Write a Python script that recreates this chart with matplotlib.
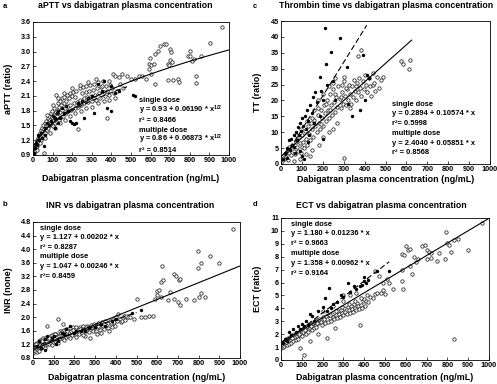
import numpy as np
import matplotlib
matplotlib.use("Agg")
import matplotlib.pyplot as plt

plt.rcParams["font.family"] = ["Liberation Sans", "DejaVu Sans"]
plt.rcParams["font.weight"] = "bold"
plt.rcParams["mathtext.fontset"] = "custom"
plt.rcParams["mathtext.rm"] = "Liberation Sans:bold"
plt.rcParams["mathtext.bf"] = "Liberation Sans:bold"

# ------------------------------------------------------------
# data: (concentration ng/mL, value)
aptt_multi = [
    (2, 0.92), (4, 1.0), (5, 0.95), (6, 1.05), (8, 1.02), (10, 1.1), (12, 0.98), (14, 1.12),
    (15, 1.05), (18, 1.2), (20, 1.15), (22, 1.08), (25, 1.25), (28, 1.18), (30, 1.3), (32, 1.22),
    (35, 1.35), (38, 1.28), (40, 1.4), (42, 1.2), (45, 1.45), (48, 1.32), (50, 1.38), (52, 1.5),
    (55, 0.95), (58, 1.42), (60, 1.55), (62, 1.35), (65, 1.48), (68, 1.6), (70, 1.4), (72, 1.52),
    (75, 1.65), (78, 1.45), (80, 1.58), (82, 1.7), (85, 1.5), (88, 1.62), (90, 1.75), (92, 1.55),
    (95, 1.68), (98, 1.8), (100, 1.6), (102, 1.48), (105, 1.72), (108, 1.85), (110, 1.65),
    (112, 1.55), (115, 1.78), (118, 2.11), (120, 1.7), (122, 1.58), (125, 1.82), (128, 1.95),
    (130, 1.75), (132, 1.62), (135, 1.88), (138, 2.0), (140, 1.78), (142, 1.68), (145, 1.92),
    (148, 2.05), (150, 1.82), (155, 1.7), (158, 1.95), (160, 2.08), (165, 1.85), (168, 1.75),
    (170, 2.0), (175, 2.12), (178, 1.9), (180, 1.8), (185, 2.05), (188, 2.15), (190, 1.92),
    (195, 1.82), (200, 2.1), (205, 2.18), (208, 1.95), (212, 1.85), (215, 2.08), (220, 2.2),
    (225, 1.98), (228, 1.88), (232, 1.43), (238, 2.25), (240, 2.02), (245, 1.92), (250, 2.15),
    (255, 2.28), (258, 2.05), (262, 1.95), (268, 2.18), (272, 2.3), (275, 2.08), (280, 1.98),
    (285, 2.2), (290, 2.32), (295, 2.1), (300, 2.0), (305, 2.22), (310, 2.35), (315, 2.12),
    (320, 2.02), (325, 2.25), (330, 2.38), (338, 2.15), (342, 2.05), (348, 2.28), (355, 2.4),
    (360, 2.18), (365, 2.1), (372, 2.3), (378, 1.66), (380, 2.2), (388, 2.12), (395, 2.32),
    (405, 2.25), (410, 2.55), (412, 2.15), (420, 2.5), (430, 2.2), (440, 2.48), (445, 2.35),
    (455, 2.55), (460, 2.25), (480, 2.5), (500, 2.45), (520, 2.45), (540, 2.5), (555, 2.5),
    (575, 2.45), (590, 2.75), (590, 2.65), (597, 2.87), (600, 2.73), (600, 2.55), (615, 2.75),
    (620, 2.34), (622, 2.95), (640, 3.02), (650, 3.12), (670, 3.16), (680, 3.15), (690, 2.75),
    (690, 2.42), (695, 2.72), (700, 3.05), (700, 2.82), (705, 3.0), (710, 2.78), (715, 2.42),
    (740, 2.44), (745, 2.38), (790, 2.9), (800, 3.02), (800, 2.9), (810, 2.8), (820, 2.85),
    (830, 2.5), (830, 2.37), (855, 2.9), (903, 3.17), (965, 3.5),
    (20, 1.0), (35, 1.15), (60, 1.25), (85, 1.35), (110, 1.45), (140, 1.55), (165, 1.62),
    (190, 1.7), (215, 1.75), (245, 1.8), (270, 1.85), (300, 1.88), (330, 1.95), (360, 2.0),
    (390, 2.02), (420, 2.05), (70, 1.72), (100, 1.92), (130, 2.05), (160, 2.15), (200, 2.25),
    (240, 2.32), (280, 2.38), (320, 2.45), (350, 2.3), (390, 2.4),
]
aptt_single = [
    (5, 0.95), (10, 1.05), (15, 1.15), (20, 1.1), (25, 1.3), (30, 1.2), (40, 1.35), (45, 1.25),
    (55, 1.08), (60, 1.45), (60, 1.3), (70, 1.55), (80, 1.5), (90, 1.6), (100, 1.7), (110, 1.65),
    (110, 1.45), (120, 1.75), (130, 1.8), (130, 1.55), (140, 1.65), (150, 1.85), (160, 1.75),
    (170, 1.9), (180, 1.8), (190, 1.6), (200, 1.55), (210, 1.52), (220, 1.55), (230, 1.95),
    (250, 2.0), (260, 1.65), (280, 2.05), (300, 2.1), (310, 1.75), (330, 2.35), (350, 2.2),
    (360, 2.4), (380, 1.85), (400, 1.8), (400, 2.3), (420, 2.15), (440, 2.2), (510, 2.12),
    (520, 2.1),
]

inr_multi = [
    (2, 0.95), (5, 1.05), (8, 1.15), (10, 1.0), (12, 1.22), (15, 1.1), (18, 0.98), (20, 1.25),
    (22, 1.12), (25, 1.05), (28, 1.3), (30, 1.18), (32, 1.08), (35, 1.32), (38, 1.2), (40, 1.1),
    (42, 1.35), (45, 1.25), (48, 1.15), (50, 1.38), (55, 1.28), (58, 1.18), (60, 1.4), (65, 1.3),
    (68, 1.2), (70, 1.75), (75, 1.32), (78, 1.22), (80, 1.45), (85, 1.35), (88, 1.25), (90, 1.48),
    (95, 1.38), (98, 1.28), (100, 1.5), (105, 1.4), (108, 1.3), (110, 1.52), (115, 1.42),
    (118, 1.32), (120, 1.95), (125, 1.45), (128, 1.35), (130, 1.58), (135, 1.48), (138, 1.38),
    (140, 1.6), (145, 1.8), (148, 1.4), (150, 1.62), (155, 1.52), (158, 1.42), (160, 1.65),
    (165, 1.55), (168, 1.45), (170, 1.66), (175, 1.56), (178, 1.46), (180, 1.68), (185, 1.58),
    (190, 1.48), (195, 1.7), (200, 1.6), (205, 1.5), (210, 1.7), (215, 1.62), (220, 1.52),
    (225, 1.72), (230, 1.64), (235, 1.54), (240, 1.74), (245, 1.65), (250, 1.45), (255, 1.58),
    (260, 1.75), (265, 1.67), (270, 1.56), (275, 1.4), (280, 1.77), (285, 1.68), (290, 1.58),
    (295, 1.8), (300, 1.7), (305, 1.6), (310, 1.5), (315, 1.82), (320, 1.72), (325, 1.62),
    (330, 1.55), (335, 1.85), (340, 1.75), (345, 1.65), (350, 1.88), (355, 1.78), (360, 1.68),
    (365, 1.58), (370, 1.9), (375, 1.8), (380, 1.72), (385, 1.95), (390, 1.85), (395, 1.75),
    (400, 2.0), (405, 1.9), (410, 2.1), (420, 1.95), (425, 1.85), (430, 1.9), (440, 2.05),
    (445, 1.92), (450, 2.05), (460, 2.0), (470, 2.0), (490, 1.95), (500, 2.55), (520, 2.0),
    (540, 2.0), (560, 2.05), (580, 2.05), (590, 2.55), (600, 2.78), (600, 2.65), (610, 2.8),
    (620, 3.05), (620, 2.6), (625, 3.5), (630, 3.1), (650, 2.5), (660, 2.75), (680, 3.28),
    (680, 2.55), (690, 3.2), (700, 2.45), (705, 3.08), (710, 3.12), (710, 2.35), (740, 2.55),
    (780, 2.5), (795, 3.95), (795, 3.45), (800, 2.6), (810, 3.6), (810, 2.7), (830, 2.6),
    (855, 3.8), (900, 3.6), (965, 4.6),
    (15, 1.2), (45, 1.3), (75, 1.4), (105, 1.5), (135, 1.55), (165, 1.6), (195, 1.62),
    (225, 1.65), (255, 1.7), (285, 1.72), (315, 1.75), (345, 1.8), (375, 1.85), (30, 1.0),
    (60, 1.1), (90, 1.18), (120, 1.25), (150, 1.32), (180, 1.38), (210, 1.42), (240, 1.48),
]
inr_single = [
    (20, 1.15), (30, 1.3), (40, 1.1), (60, 1.35), (60, 1.05), (70, 1.45), (90, 1.4), (100, 1.45),
    (110, 1.2), (120, 1.3), (140, 1.55), (150, 1.5), (160, 1.65), (180, 1.75), (200, 1.55),
    (210, 1.58), (230, 1.6), (250, 1.6), (270, 1.68), (300, 1.7), (330, 1.8), (350, 1.75),
    (380, 1.88), (400, 1.95), (480, 2.12), (520, 2.2),
]

tt_multi = [
    (5, 1.0), (10, 2.0), (15, 1.5), (20, 3.0), (25, 2.2), (30, 4.0), (35, 1.2), (40, 3.5),
    (45, 5.0), (50, 2.8), (55, 6.0), (60, 4.2), (60, 0.8), (65, 3.0), (70, 7.0), (75, 5.5),
    (80, 4.0), (85, 8.5), (90, 6.5), (90, 1.5), (95, 3.5), (100, 9.0), (100, 5.5), (105, 7.0),
    (110, 5.0), (115, 10.5), (120, 8.0), (120, 3.0), (125, 6.0), (130, 12.0), (135, 9.5),
    (140, 7.5), (140, 2.5), (145, 13.0), (150, 11.0), (150, 4.5), (155, 8.5), (160, 14.0),
    (160, 17.0), (165, 12.0), (170, 10.0), (175, 15.5), (175, 20.0), (180, 13.0), (180, 6.0),
    (185, 11.0), (190, 17.0), (195, 14.5), (200, 12.0), (200, 8.5), (200, 22.0), (205, 18.5),
    (210, 16.0), (215, 13.5), (220, 20.0), (225, 17.0), (230, 14.5), (230, 10.0), (230, 24.5),
    (235, 22.0), (240, 18.5), (245, 15.5), (250, 23.5), (250, 11.0), (250, 25.5), (255, 19.5),
    (260, 16.5), (260, 27.0), (265, 21.0), (270, 18.0), (270, 13.0), (275, 24.5), (280, 20.5),
    (285, 17.5), (290, 22.5), (290, 25.0), (295, 19.0), (300, 26.0), (300, 27.5), (300, 1.8),
    (305, 21.5), (310, 18.5), (315, 23.5), (320, 20.0), (325, 25.0), (330, 22.0), (335, 19.0),
    (340, 24.5), (345, 21.0), (350, 26.5), (355, 23.0), (360, 20.0), (365, 25.5), (368, 34.0),
    (370, 22.5), (375, 27.0), (380, 24.0), (385, 21.5), (385, 35.8), (390, 26.0), (395, 23.5),
    (400, 28.0), (405, 25.0), (410, 22.5), (420, 27.0), (425, 24.5), (430, 21.5), (440, 28.5),
    (440, 25.0), (445, 25.5), (450, 23.0), (460, 27.5), (470, 24.0), (480, 26.5), (490, 27.5),
    (576, 32.3), (585, 31.5), (612, 30.0), (619, 32.6),
    (40, 5.5), (70, 9.0), (95, 11.0), (125, 13.5), (150, 14.5), (175, 17.5), (190, 12.5),
    (215, 19.0), (235, 17.0), (260, 22.0), (285, 21.0), (310, 24.0), (330, 17.5), (360, 24.5),
]
tt_single = [
    (10, 1.5), (20, 3.5), (30, 2.0), (30, 5.0), (40, 7.5), (45, 4.5), (50, 8.0), (55, 6.0),
    (60, 9.0), (60, 5.5), (65, 3.5), (70, 10.0), (75, 7.5), (80, 11.5), (85, 9.0), (90, 13.0),
    (90, 4.0), (95, 10.5), (100, 2.5), (100, 14.5), (105, 12.0), (110, 1.5), (115, 15.0),
    (120, 11.0), (125, 17.0), (130, 13.5), (130, 7.0), (135, 9.0), (140, 18.5), (150, 16.0),
    (155, 21.0), (160, 13.0), (165, 22.5), (170, 19.5), (185, 27.3), (185, 15.0), (190, 23.0),
    (200, 20.0), (200, 8.0), (209, 42.8), (214, 31.5), (220, 25.0), (241, 35.3), (250, 26.0),
    (260, 20.0), (281, 39.8), (316, 30.5), (320, 19.0), (340, 15.0), (380, 17.0), (392, 34.4),
    (400, 20.0), (410, 28.0), (420, 27.0),
]

ect_multi = [
    (2, 0.9), (5, 1.2), (8, 1.0), (10, 1.4), (15, 1.1), (18, 1.5), (20, 1.25), (25, 1.6),
    (28, 1.35), (30, 1.15), (35, 1.7), (38, 1.45), (40, 1.25), (45, 1.8), (48, 1.55), (50, 1.35),
    (55, 1.9), (58, 1.65), (60, 1.45), (65, 2.0), (68, 1.75), (70, 1.55), (75, 2.1), (78, 1.85),
    (80, 1.65), (85, 2.2), (88, 1.95), (90, 0.9), (95, 2.3), (98, 2.05), (100, 1.85), (105, 2.4),
    (108, 2.15), (110, 0.4), (115, 2.5), (118, 2.25), (120, 2.05), (125, 2.6), (128, 2.35),
    (130, 2.15), (135, 2.7), (138, 2.45), (140, 1.5), (145, 2.8), (148, 2.55), (150, 2.35),
    (155, 2.9), (158, 2.65), (160, 2.45), (165, 3.0), (168, 2.75), (170, 2.55), (175, 3.1),
    (178, 2.85), (180, 2.0), (185, 3.2), (190, 2.95), (195, 2.75), (200, 3.3), (200, 3.8),
    (205, 3.05), (210, 2.85), (215, 3.4), (220, 1.7), (225, 2.95), (230, 3.5), (235, 3.25),
    (240, 3.05), (245, 3.6), (250, 3.35), (250, 4.2), (255, 3.15), (260, 2.5), (265, 3.45),
    (270, 3.25), (275, 3.8), (280, 3.55), (285, 3.35), (290, 3.9), (295, 3.65), (300, 3.45),
    (300, 5.0), (300, 4.6), (305, 4.0), (310, 3.75), (315, 3.55), (320, 4.1), (325, 3.85),
    (330, 3.65), (330, 5.0), (335, 4.2), (340, 3.95), (345, 3.75), (350, 4.3), (355, 4.05),
    (360, 3.85), (360, 5.2), (365, 4.4), (370, 4.15), (375, 3.95), (380, 2.7), (385, 4.25),
    (390, 4.05), (395, 4.6), (400, 4.7), (405, 4.15), (410, 4.6), (420, 4.5), (430, 4.9),
    (440, 4.8), (450, 6.9), (450, 5.1), (460, 5.2), (470, 6.5), (480, 5.2), (490, 5.4),
    (490, 6.0), (500, 5.1), (510, 6.3), (520, 6.0), (540, 5.5), (580, 8.2), (580, 7.0),
    (580, 6.1), (585, 5.5), (590, 8.1), (600, 8.8), (610, 8.5), (620, 8.6), (620, 7.3),
    (630, 6.7), (640, 8.0), (650, 7.6), (660, 7.8), (680, 8.8), (690, 8.9), (700, 8.5),
    (700, 7.8), (710, 8.4), (720, 8.3), (720, 7.9), (750, 7.7), (760, 8.3), (790, 7.8),
    (795, 9.9), (800, 9.1), (810, 8.9), (815, 8.4), (830, 9.3), (830, 1.6), (850, 9.4),
    (900, 8.5), (965, 10.6),
    (25, 1.4), (55, 1.7), (85, 2.0), (115, 2.3), (145, 2.6), (175, 2.9), (205, 3.2),
    (235, 3.5), (265, 3.8), (295, 4.1), (325, 4.3), (355, 4.6), (385, 4.8), (415, 5.0),
]
ect_single = [
    (10, 1.3), (20, 1.6), (30, 1.5), (40, 2.2), (50, 1.9), (60, 2.4), (70, 2.2), (80, 2.6),
    (90, 2.4), (100, 2.8), (110, 2.6), (120, 3.0), (130, 2.7), (140, 3.6), (150, 3.4), (160, 3.0),
    (180, 3.8), (200, 4.1), (210, 4.8), (220, 3.8), (230, 5.6), (240, 4.0), (250, 4.3),
    (270, 4.5), (290, 5.0), (300, 4.9), (320, 6.0), (330, 5.3), (350, 5.7), (360, 5.5),
    (380, 5.7), (390, 5.8), (400, 6.4), (400, 6.1), (410, 6.0), (420, 6.2), (460, 6.9),
    (520, 6.9),
]

# fitted lines as printed on the figure: (intercept, slope, x end)
aptt_fit_single = (0.93, 0.06190, 480)
aptt_fit_multi = (0.86, 0.06873, 1000)
inr_fit_single = (1.127, 0.00202, 500)
inr_fit_multi = (1.047, 0.00246, 1000)
tt_fit_single = (0.2894, 0.10574, 410)
tt_fit_multi = (2.4040, 0.05851, 625)
ect_fit_single = (1.180, 0.01236, 520)
ect_fit_multi = (1.358, 0.00962, 1000)

aptt_text = ["single dose", "y = 0.93 + 0.06190 * x$^{1/2}$", "r² = 0.8466",
             "multiple dose", "y = 0.86 + 0.06873 * x$^{1/2}$", "r² = 0.8514"]
inr_text = ["single dose", "y = 1.127 + 0.00202 * x", "r² = 0.8287",
            "multiple dose", "y = 1.047 + 0.00246 * x", "r²= 0.8459"]
tt_text = ["single dose", "y = 0.2894 + 0.10574 * x", "r²= 0.5998",
           "multiple dose", "y = 2.4040 + 0.05851 * x", "r² = 0.8568"]
ect_text = ["single dose", "y = 1.180 + 0.01236 * x", "r² = 0.9663",
            "multiple dose", "y = 1.358 + 0.00962 * x", "r² = 0.9164"]

xticks = np.arange(0, 1001, 100)
xlabel = "Dabigatran plasma concentration (ng/mL)"


def draw_panel(rect_px, multi, single, fit_s, fit_m, sqrt_fit, ylim, yticks, yfmt,
               lines, text_px, title, title_xy, letter_xy, ylabel, ylabel_x, xlabel_y):
    l, t, r, b = rect_px
    rect = [l / W, 1 - b / H, (r - l) / W, (b - t) / H]
    ax = fig.add_axes(rect)
    mx, my = np.array(multi).T
    sx, sy = np.array(single).T
    ax.scatter(mx, my, s=6, facecolors="white", edgecolors="#222222", linewidths=0.55, zorder=2)
    ax.scatter(sx, sy, s=6, color="black", linewidths=0, zorder=3)

    for (b0, b1, xend), ls in [(fit_m, "-"), (fit_s, (0, (5, 2.5)))]:
        xx = np.linspace(0, xend, 200)
        yy = b0 + b1 * (np.sqrt(xx) if sqrt_fit else xx)
        ax.plot(xx, yy, color="black", lw=0.8, ls=ls, zorder=4)

    ax.set_xlim(0, 1000)
    ax.set_ylim(*ylim)
    ax.set_xticks(xticks)
    ax.set_yticks(yticks)
    ax.set_yticklabels([yfmt % v for v in yticks])
    ax.tick_params(direction="in", length=2, width=0.5, labelsize=5.2, pad=1.5)
    for lab in ax.get_xticklabels() + ax.get_yticklabels():
        lab.set_fontweight("bold")
    for s in ax.spines.values():
        s.set_linewidth(0.6)

    # one text per line so the rows keep an even spacing
    tx, ty, step = text_px
    for i, line in enumerate(lines):
        fig.text(tx / W, 1 - (ty + i * step + 2.5) / H, line, fontsize=5.4,
                 fontweight="bold", va="baseline", ha="left", zorder=5)

    fig.text(title_xy[0] / W, 1 - title_xy[1] / H, title, ha="center", va="center",
             fontsize=6.3, fontweight="bold")
    fig.text(letter_xy[0] / W, 1 - letter_xy[1] / H, letter_xy[2], ha="center",
             va="center", fontsize=5.5, fontweight="bold")
    fig.text(ylabel_x / W, rect[1] + rect[3] / 2, ylabel, rotation=90, ha="center",
             va="center", fontsize=6.5, fontweight="bold")
    fig.text(rect[0] + rect[2] / 2, 1 - xlabel_y / H, xlabel, ha="center", va="center",
             fontsize=6.4, fontweight="bold")
    return ax


W, H = 497, 384
fig = plt.figure(figsize=(W / 100, H / 100), dpi=100)

draw_panel((33, 22, 229, 155), aptt_multi, aptt_single,
           aptt_fit_single, aptt_fit_multi, True, (0.9, 3.6),
           np.round(np.arange(0.9, 3.61, 0.3), 1), "%.1f",
           aptt_text, (139, 100, 9.8), "aPTT vs dabigatran plasma concentration", (125, 6),
           (5, 6, "a"), "aPTT (ratio)", 9, 179)

draw_panel((33, 222, 240, 358), inr_multi, inr_single,
           inr_fit_single, inr_fit_multi, False, (0.8, 4.8),
           np.round(np.arange(0.8, 4.81, 0.4), 1), "%.1f",
           inr_text, (40, 227, 9.6), "INR vs dabigatran plasma concentration", (130, 205),
           (5, 205, "b"), "INR (none)", 9, 377)

draw_panel((281, 21, 490, 164), tt_multi, tt_single,
           tt_fit_single, tt_fit_multi, False, (0, 45),
           np.arange(0, 46, 5), "%d",
           tt_text, (392, 103, 9.8), "Thrombin time vs dabigatran plasma concentration", (386, 6),
           (255, 6, "c"), "TT (ratio)", 257, 180)

draw_panel((281, 218, 489, 360), ect_multi, ect_single,
           ect_fit_single, ect_fit_multi, False, (0, 11),
           np.arange(0, 12, 1), "%d",
           ect_text, (291, 223, 9.9), "ECT vs dabigatran plasma concentration", (381, 205),
           (255, 205, "d"), "ECT (ratio)", 257, 378)

fig.savefig("out.png", dpi=100)
